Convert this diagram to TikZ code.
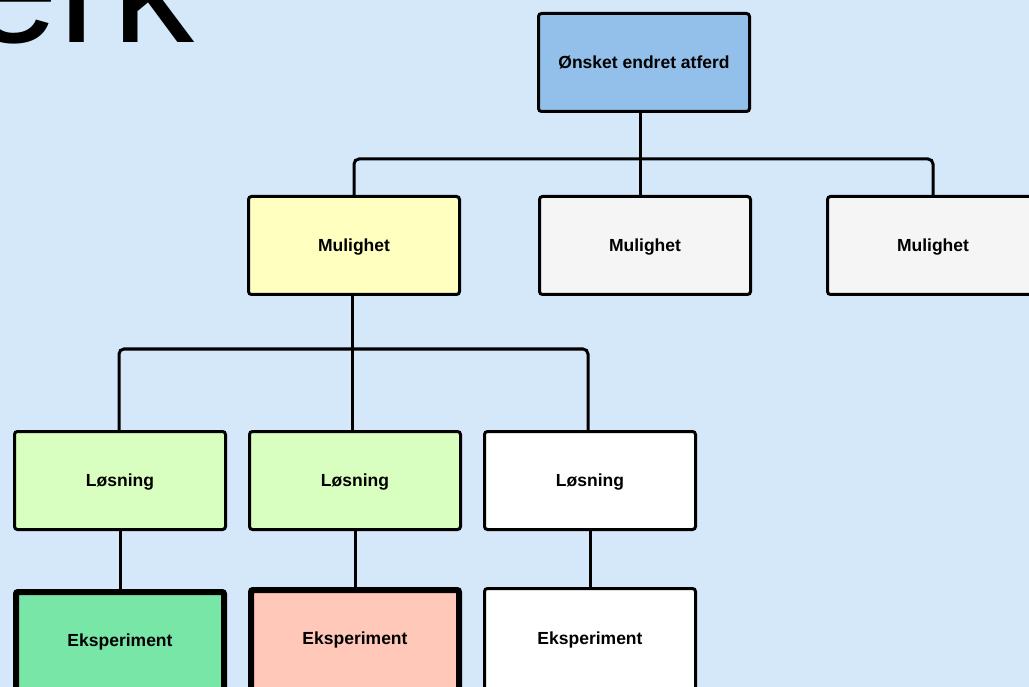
\documentclass[tikz,border=0pt]{standalone}
\usepackage{fontspec}
\setmainfont{Liberation Sans}
\definecolor{bgblue}{RGB}{212,232,250}
\definecolor{goalblue}{RGB}{147,192,234}
\definecolor{optyellow}{RGB}{255,255,192}
\definecolor{optgrey}{RGB}{245,245,245}
\definecolor{solgreen}{RGB}{216,255,192}
\definecolor{expgreen}{RGB}{120,230,166}
\definecolor{expsalmon}{RGB}{255,200,184}
\tikzset{
  box/.style={draw=black, line width=3pt, rounded corners=3pt,
    minimum width=211pt, minimum height=98pt, inner sep=0pt,
    text height=12.6pt, text depth=0pt,
    font=\fontsize{17.5}{19}\selectfont\bfseries},
  % experiment boxes run past the lower edge; the extra depth lifts the label
  expbox/.style={box, minimum height=108pt, text depth=9pt},
  thickbox/.style={expbox, line width=6pt, rounded corners=2pt,
    minimum width=208pt, minimum height=105pt},
  conn/.style={draw=black, line width=3pt, rounded corners=5pt}
}
\begin{document}
\begin{tikzpicture}[x=1pt, y=-1pt]
  \clip (0,0) rectangle (1029,687);
  \fill[bgblue] (0,0) rectangle (1029,687);
  \useasboundingbox (0,0) rectangle (1029,687);

  % heading fragment
  \node[anchor=base west, inner sep=0pt, font=\fontsize{164}{170}\selectfont]
    (title) at (-33,43) {erk};

  % goal
  \node[box, fill=goalblue] (goal) at (644,62.5) {Ønsket endret atferd};

  % options
  \node[box, fill=optyellow] (m1) at (354,245.5) {Mulighet};
  \node[box, fill=optgrey]   (m2) at (645,245.5) {Mulighet};
  \node[box, fill=optgrey]   (m3) at (933,245.5) {Mulighet};

  % solutions
  \node[box, fill=solgreen] (l1) at (120,480.5) {Løsning};
  \node[box, fill=solgreen] (l2) at (355,480.5) {Løsning};
  \node[box, fill=white]    (l3) at (590,480.5) {Løsning};

  % experiments
  \node[thickbox, fill=expgreen]  (e1) at (120,644.5) {Eksperiment};
  \node[thickbox, fill=expsalmon] (e2) at (355,642.5) {Eksperiment};
  \node[expbox, fill=white]       (e3) at (590,642.5) {Eksperiment};

  % bus lines
  \coordinate (busA) at (640,159);
  \coordinate (busB) at (352,349);

  % goal -> options
  \draw[conn] ([xshift=-4pt]goal.south) -- ([xshift=-5pt]m2.north);
  \draw[conn] (m1.north) |- (busA) -| (m3.north);

  % option -> solutions
  \draw[conn] ([xshift=-2pt]m1.south) -- ([xshift=-3pt]l2.north);
  \draw[conn] ([xshift=-1pt]l1.north) |- (busB) -| ([xshift=-2pt]l3.north);

  % solutions -> experiments
  \draw[conn] (l1.south) -- (e1.north);
  \draw[conn] (l2.south) -- (e2.north);
  \draw[conn] (l3.south) -- (e3.north);
\end{tikzpicture}
\end{document}
